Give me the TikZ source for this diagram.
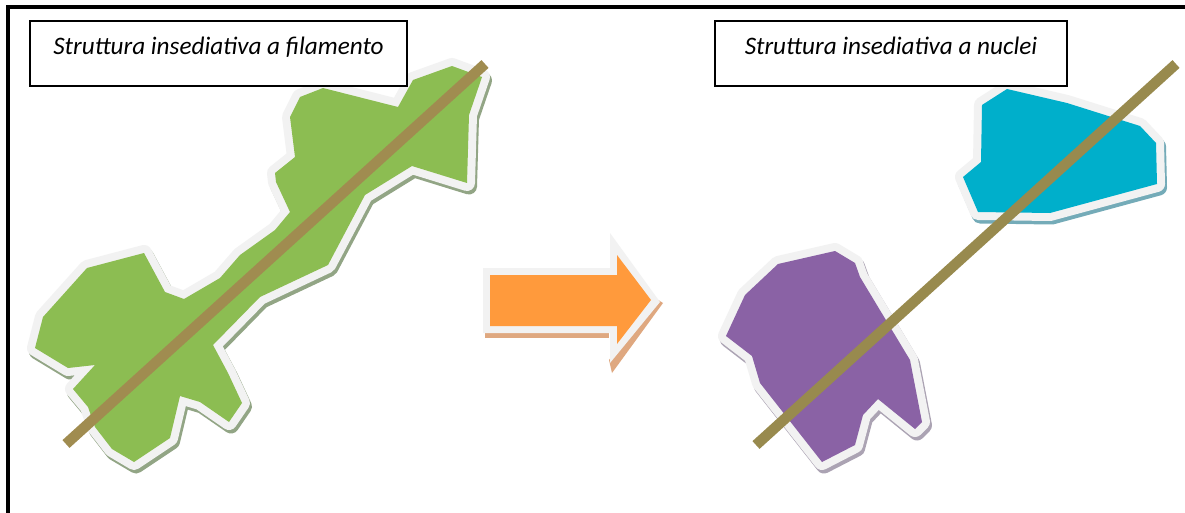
\documentclass[tikz,border=0pt]{standalone}
\usepackage{fontspec}
\setmainfont{Carlito}
\definecolor{rim}{HTML}{F2F2F2}
\definecolor{greenfill}{HTML}{8CBD52}
\definecolor{greenshade}{HTML}{92A585}
\definecolor{purplefill}{HTML}{8A62A5}
\definecolor{purpleshade}{HTML}{ABA3B3}
\definecolor{cyanfill}{HTML}{00AFCB}
\definecolor{cyanshade}{HTML}{74ABB8}
\definecolor{orangefill}{HTML}{FF9A3C}
\definecolor{orangeshade}{HTML}{DFA880}
\definecolor{roadleft}{HTML}{A08C50}
\definecolor{roadright}{HTML}{988A4E}
\tikzset{
 x=1pt,y=-1pt,
 greenshape/.style={insert path={(452,66)--(482,77)--(469,115)--(467,183)--(412,166)--(365,195)--(328,265)--(260,297)--(213,345)--(228,373)--(242,403)--(229,422)--(200,402)--(180,396)--(170,438)--(134,462)--(112,449)--(95,427)--(88,407)--(73,389)--(95,365)--(68,368)--(35,348)--(43,317)--(87,268)--(144,253)--(165,292)--(184,299)--(220,278)--(240,255)--(275,230)--(290,212)--(276,182)--(275,173)--(295,157)--(290,117)--(300,97)--(323,88)--(398,107)--(413,80)--cycle}},
 purpleshape/.style={insert path={(835,251)--(855,263)--(860,277)--(910,360)--(922,422)--(915,429)--(878,399)--(863,415)--(855,445)--(822,462)--(760,383)--(752,356)--(726,336)--(745,295)--(778,264)--cycle}},
 cyanshape/.style={insert path={(1007,89)--(982,105)--(981,162)--(963,177)--(978,212)--(1050,213)--(1157,184)--(1156,143)--(1140,126)--(1067,103)--cycle}},
 rimline/.style={draw=rim,line width=16pt,line join=round},
 shadeline/.style={line width=16pt,line join=round},
 road/.style={line width=10.5pt},
 titlebox/.style={draw=black,line width=2pt,fill=white,inner sep=0pt,text height=34pt,text depth=31pt,font=\fontsize{25.2}{27}\selectfont\itshape}
}
\begin{document}
\begin{tikzpicture}
\useasboundingbox (0,0) rectangle (1185,513);
\fill[white] (0,0) rectangle (1185,513);
% frame
\draw[black,line width=4pt] (8,513) -- (8,7) -- (1185,7);
% green settlement
\begin{scope}[xshift=2pt,yshift=-3.5pt]
\path[greenshape,draw=greenshade,shadeline];
\end{scope}
\path[greenshape,rimline];
\path[greenshape,fill=greenfill];
% purple settlement
\begin{scope}[xshift=2pt,yshift=-3.5pt]
\path[purpleshape,draw=purpleshade,shadeline];
\end{scope}
\path[purpleshape,rimline];
\path[purpleshape,fill=purplefill];
% cyan settlement
\begin{scope}[xshift=2pt,yshift=-3.5pt]
\path[cyanshape,draw=cyanshade,shadeline];
\end{scope}
\path[cyanshape,rimline];
\path[cyanshape,fill=cyanfill];
% arrow
\fill[orangeshade] (485,328) -- (485,338) -- (609,338) -- (609,328) -- cycle;
\fill[orangeshade] (612,373) -- (663,303) -- (655,298) -- (609,360) -- cycle;
\fill[rim] (483,268) -- (610,268) -- (610,233) -- (660,302) -- (610,363) -- (610,333) -- (483,333) -- cycle;
\fill[orangefill] (490,275) -- (617,275) -- (617,255) -- (651,300) -- (617,344) -- (617,326) -- (490,326) -- cycle;
% lines
\coordinate (la) at (66,444);
\coordinate (lb) at (485,64);
\coordinate (ra) at (756,445);
\coordinate (rb) at (1176,64);
\draw[road,roadleft] (la) -- (lb);
\draw[road,roadright] (ra) -- (rb);
% titles
\node[titlebox,minimum width=377pt,minimum height=65pt] (t1) at (218.5,53.5) {Struttura insediativa a filamento};
\node[titlebox,minimum width=352pt,minimum height=65pt] (t2) at (891,53.5) {Struttura insediativa a nuclei};
\end{tikzpicture}
\end{document}
